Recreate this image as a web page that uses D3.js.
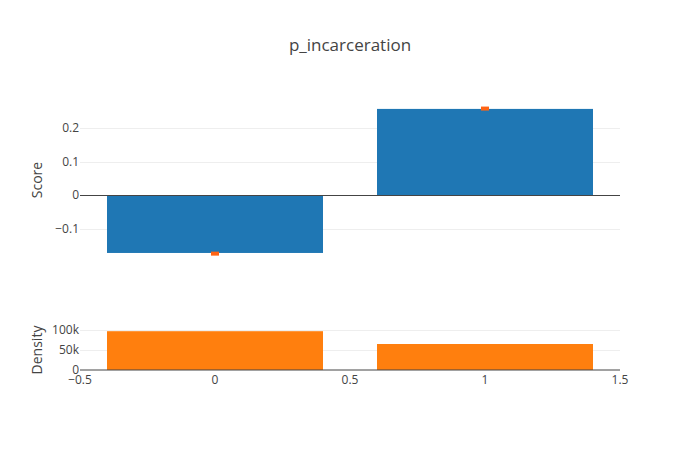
<!DOCTYPE html>
<html>
<head>
<meta charset="utf-8">
<script src="https://cdn.jsdelivr.net/npm/d3@7"></script>
<style>
  body { margin: 0; background: #fff; }
  svg text { font-family: "Open Sans", verdana, arial, sans-serif; fill: #444; }
</style>
</head>
<body>
<div id="chart"></div>
<script>
// Chart data
const categories = [0, 1];
const scores = [-0.173, 0.257];
const scoreMarks = [-0.175, 0.258];
const densities = [97000, 65000];
const xTicks = [-0.5, 0, 0.5, 1, 1.5];
const scoreTicks = [-0.1, 0, 0.1, 0.2];
const densityTicks = [0, 50000, 100000];

const width = 700, height = 450;
const barWidth = 0.8;

const svg = d3.select("#chart").append("svg")
  .attr("width", width)
  .attr("height", height);

const x = d3.scaleLinear().domain([-0.5, 1.5]).range([80, 620]);
const yScore = d3.scaleLinear().domain([-0.194, 0.2836]).range([260, 100]);
const yDens = d3.scaleLinear().domain([0, 102500]).range([370, 329]);

const fmtTick = d => d3.format("~g")(d).replace("-", "\u2212");
const fmtK = d => d === 0 ? "0" : (d / 1000) + "k";

// Title
svg.append("text")
  .attr("x", 350).attr("y", 51)
  .attr("text-anchor", "middle")
  .attr("font-size", 17)
  .text("p_incarceration");

// Score panel
const scorePanel = svg.append("g");
scorePanel.selectAll("line.grid")
  .data(scoreTicks.filter(d => d !== 0))
  .join("line")
  .attr("class", "grid")
  .attr("x1", 80).attr("x2", 620)
  .attr("y1", d => Math.round(yScore(d)) + 0.5)
  .attr("y2", d => Math.round(yScore(d)) + 0.5)
  .attr("stroke", "#eee");

scorePanel.selectAll("rect.bar")
  .data(categories)
  .join("rect")
  .attr("class", "bar")
  .attr("x", d => x(d - barWidth / 2))
  .attr("width", x(barWidth) - x(0))
  .attr("y", (d, i) => Math.min(yScore(0), yScore(scores[i])))
  .attr("height", (d, i) => Math.abs(yScore(scores[i]) - yScore(0)))
  .attr("fill", "#1f77b4");

scorePanel.append("line")
  .attr("x1", 80).attr("x2", 620)
  .attr("y1", Math.round(yScore(0)) + 0.5)
  .attr("y2", Math.round(yScore(0)) + 0.5)
  .attr("stroke", "#444");

scorePanel.selectAll("rect.mark")
  .data(categories)
  .join("rect")
  .attr("class", "mark")
  .attr("x", d => x(d) - 4)
  .attr("y", (d, i) => yScore(scoreMarks[i]) - 2)
  .attr("width", 8).attr("height", 4)
  .attr("fill", "#ff6414");

scorePanel.selectAll("text.ytick")
  .data(scoreTicks)
  .join("text")
  .attr("class", "ytick")
  .attr("x", 79)
  .attr("y", d => yScore(d) + 4)
  .attr("text-anchor", "end")
  .attr("font-size", 12)
  .text(fmtTick);

svg.append("text")
  .attr("transform", `translate(42,${180}) rotate(-90)`)
  .attr("text-anchor", "middle")
  .attr("font-size", 14)
  .text("Score");

// Density panel
const densPanel = svg.append("g");
densPanel.selectAll("line.grid")
  .data(densityTicks.filter(d => d !== 0))
  .join("line")
  .attr("class", "grid")
  .attr("x1", 80).attr("x2", 620)
  .attr("y1", d => Math.round(yDens(d)) + 0.5)
  .attr("y2", d => Math.round(yDens(d)) + 0.5)
  .attr("stroke", "#eee");

densPanel.selectAll("rect.bar")
  .data(categories)
  .join("rect")
  .attr("class", "bar")
  .attr("x", d => x(d - barWidth / 2))
  .attr("width", x(barWidth) - x(0))
  .attr("y", (d, i) => yDens(densities[i]))
  .attr("height", (d, i) => yDens(0) - yDens(densities[i]))
  .attr("fill", "#ff7f0e");

densPanel.append("line")
  .attr("x1", 80).attr("x2", 620)
  .attr("y1", yDens(0)).attr("y2", yDens(0))
  .attr("stroke", "#444");

densPanel.selectAll("text.ytick")
  .data(densityTicks)
  .join("text")
  .attr("class", "ytick")
  .attr("x", 79)
  .attr("y", d => yDens(d) + 4)
  .attr("text-anchor", "end")
  .attr("font-size", 12)
  .text(fmtK);

densPanel.selectAll("text.xtick")
  .data(xTicks)
  .join("text")
  .attr("class", "xtick")
  .attr("x", d => x(d))
  .attr("y", 384)
  .attr("text-anchor", "middle")
  .attr("font-size", 12)
  .text(fmtTick);

svg.append("text")
  .attr("transform", `translate(42,${350}) rotate(-90)`)
  .attr("text-anchor", "middle")
  .attr("font-size", 14)
  .text("Density");
</script>
</body>
</html>
